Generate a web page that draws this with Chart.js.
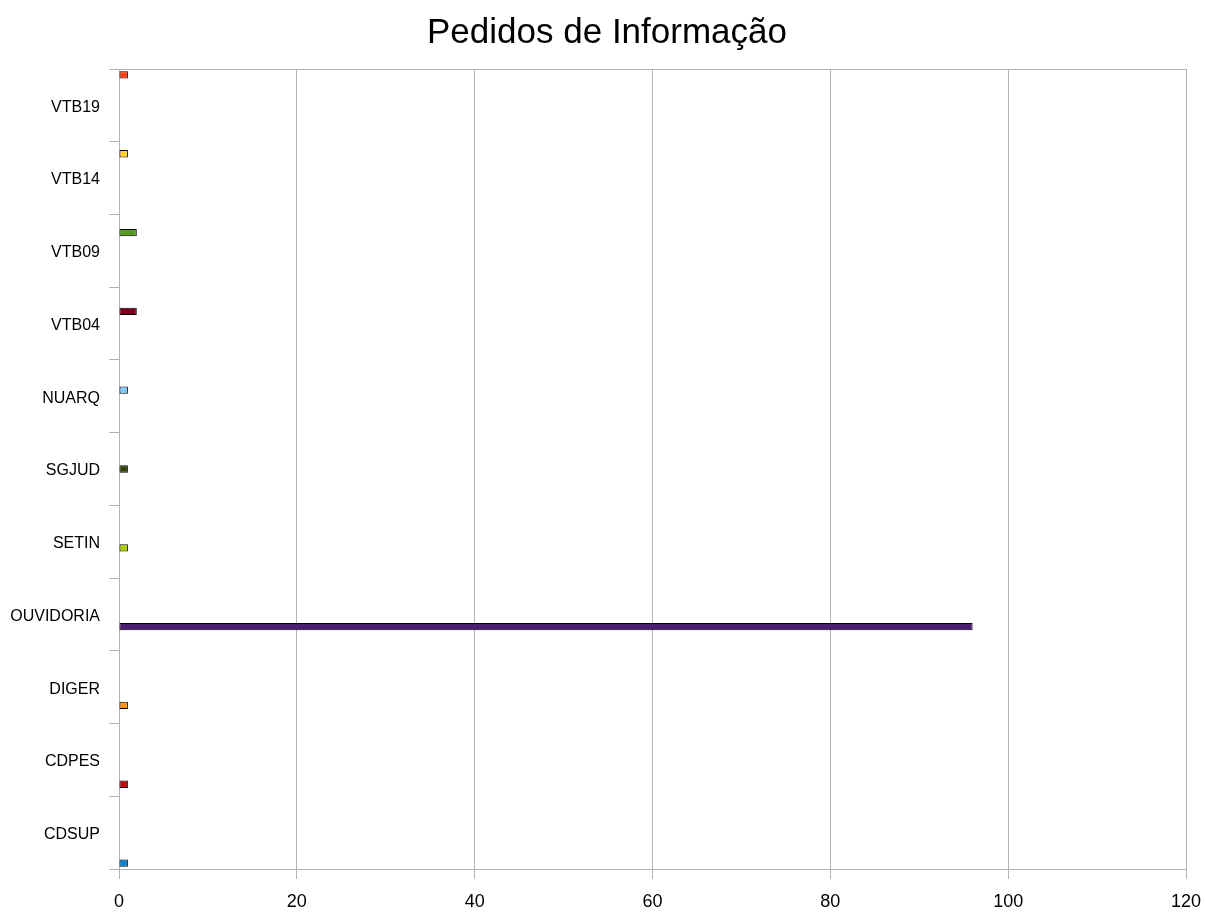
<!DOCTYPE html>
<html>
<head>
<meta charset="utf-8">
<script src="https://cdn.jsdelivr.net/npm/chart.js@4/dist/chart.umd.min.js"></script>
<style>
  html, body { margin: 0; padding: 0; background: #fff; }
  #wrap { width: 1206px; height: 912px; }
</style>
</head>
<body>
<div id="wrap"><canvas id="chart" width="1206" height="912"></canvas></div>
<script>
// categories, top to bottom as they appear on the axis
var categories = ["VTB19", "VTB14", "VTB09", "VTB04", "NUARQ", "SGJUD", "SETIN", "OUVIDORIA", "DIGER", "CDPES", "CDSUP"];
var pedidos    = [1, 1, 2, 2, 1, 1, 1, 96, 1, 1, 1];
var barColors  = ["#ff420e", "#ffd320", "#579d1c", "#7e0021", "#83caff", "#314004", "#aecf00", "#4b1f6f", "#ff950e", "#c5000b", "#0084d1"];
var xTicks     = [0, 20, 40, 60, 80, 100, 120];

var GRID = "#b3b3b3";
var FONT = "'Liberation Sans', Arial, sans-serif";

// one series per category (each one only has a value in its own row)
var datasets = [];
for (var i = 0; i < categories.length; i++) {
	var values = [];
	for (var j = 0; j < categories.length; j++) {
		values.push(i === j ? pedidos[j] : null);
	}
	datasets.push({
		label: categories[i],
		data: values,
		backgroundColor: barColors[i],
		borderColor: "#000000",
		borderWidth: 1,
		borderSkipped: false,
		categoryPercentage: 0.92,
		barPercentage: 1.2
	});
}

var chart = new Chart(document.getElementById("chart"), {
	type: "bar",
	data: { labels: categories, datasets: datasets },
	options: {
		indexAxis: "y",
		responsive: false,
		animation: false,
		layout: { padding: { left: 8, right: 0, top: 0, bottom: 0 } },
		plugins: {
			legend: { display: false },
			tooltip: { enabled: false },
			title: {
				display: true,
				text: "Pedidos de Informação",
				color: "#000000",
				font: { family: FONT, size: 35, weight: "normal" },
				padding: { top: 12, bottom: 15 }
			}
		},
		scales: {
			x: {
				min: 0,
				max: 120,
				afterBuildTicks: function(scale) {
					scale.ticks = xTicks.map(function(v) { return { value: v }; });
				},
				afterFit: function(scale) {
					scale.height = 43;
					scale.paddingLeft = 0;
					scale.paddingRight = 20; // room on the right, like the original plot
				},
				grid: { color: GRID, tickColor: GRID, tickLength: 10, lineWidth: 1 },
				border: { color: GRID },
				ticks: {
					color: "#000000",
					padding: 12,
					font: { family: FONT, size: 18 }
				}
			},
			y: {
				afterFit: function(scale) { scale.width = 111; },
				grid: {
					offset: true,
					tickLength: 10,
					tickColor: GRID,
					color: function(ctx) { return ctx.index === 0 ? GRID : "rgba(0,0,0,0)"; }
				},
				border: { color: GRID },
				ticks: {
					color: "#000000",
					padding: 9,
					labelOffset: 2,
					font: { family: FONT, size: 16 }
				}
			}
		}
	}
});
</script>
</body>
</html>
